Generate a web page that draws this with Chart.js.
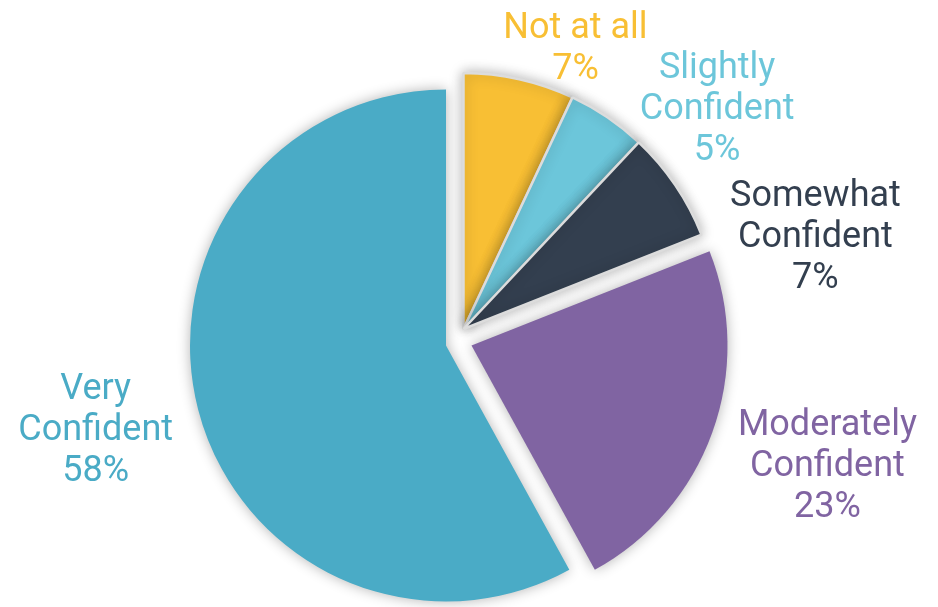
<!DOCTYPE html>
<html>
<head>
<meta charset="utf-8">
<script src="https://cdn.jsdelivr.net/npm/chart.js@4.4.1/dist/chart.umd.min.js"></script>
<style>
  html, body { margin: 0; padding: 0; background: #fff; }
  #wrap { position: relative; width: 938px; height: 607px; }
  #wrap canvas { position: absolute; left: 0; top: 0; }
</style>
</head>
<body>
<div id="wrap">
  <canvas id="pieSmall" width="938" height="607"></canvas>
  <canvas id="pieModerate" width="938" height="607"></canvas>
  <canvas id="pieVery" width="938" height="607"></canvas>
</div>
<script>
// Survey answers, clockwise from 12 o'clock
const categories = ['Not at all', 'Slightly Confident', 'Somewhat Confident', 'Moderately Confident', 'Very Confident'];
const percents = [7, 5, 7, 23, 58];
const labelLines = [['Not at all'], ['Slightly', 'Confident'], ['Somewhat', 'Confident'], ['Moderately', 'Confident'], ['Very', 'Confident']];

const colors = ['#F8BF34', '#6CC6DA', '#333F4F', '#8064A2', '#4AABC6'];
const labelNudge = [[36, 30], [55, 60], [53, 99], [12, 7], [-8, 2]];
const lineHeight = 41;

// the pie is exploded in three pieces, each drawn on its own canvas
const W = 938, H = 607;
const baseCenter = [460, 336];
const pieRadius = 256;
const pieces = [
    { canvas: 'pieSmall', slices: [0, 1, 2], shift: [3.5, -7] },
    { canvas: 'pieModerate', slices: [3], shift: [11.5, 9.5] },
    { canvas: 'pieVery', slices: [4], shift: [-14, 9.5] }
];

const shadowAndLabels = {
    id: 'shadowAndLabels',
    beforeDatasetsDraw(chart) {
        const ctx = chart.ctx;
        ctx.save();
        ctx.shadowColor = 'rgba(0, 0, 0, 0.3)';
        ctx.shadowBlur = 13;
    },
    afterDatasetsDraw(chart, args, opts) {
        const ctx = chart.ctx;
        ctx.restore();

        const arcs = chart.getDatasetMeta(0).data;
        ctx.save();
        ctx.font = '36px Roboto';
        ctx.textAlign = 'center';
        ctx.textBaseline = 'middle';
        arcs.forEach((arc, i) => {
            if (!opts.slices.includes(i)) return;
            const lines = labelLines[i].concat(percents[i] + '%');
            const mid = (arc.startAngle + arc.endAngle) / 2;
            const dx = Math.cos(mid), dy = Math.sin(mid);
            const halfW = Math.max(...lines.map(l => ctx.measureText(l).width)) / 2;
            const halfH = lines.length * lineHeight / 2;
            const reach = arc.outerRadius + 20;
            const cx = arc.x + dx * (reach + halfW) + labelNudge[i][0];
            const cy = arc.y + dy * (reach + halfH) + labelNudge[i][1];
            ctx.fillStyle = colors[i];
            lines.forEach((txt, k) => {
                ctx.fillText(txt, cx, cy + (k - (lines.length - 1) / 2) * lineHeight);
            });
        });
        ctx.restore();
    }
};

pieces.forEach(piece => {
    const cx = baseCenter[0] + piece.shift[0];
    const cy = baseCenter[1] + piece.shift[1];
    const padX = 2 * cx - W;
    const padY = 2 * cy - H;
    const shown = percents.map((v, i) => piece.slices.includes(i));
    const edge = piece.slices.length > 1 ? 2.5 : 0;

    new Chart(document.getElementById(piece.canvas).getContext('2d'), {
        type: 'pie',
        data: {
            labels: categories,
            datasets: [{
                data: percents,
                backgroundColor: colors.map((c, i) => shown[i] ? c : 'rgba(0,0,0,0)'),
                borderColor: '#dcdcdc',
                borderWidth: shown.map(s => s ? edge : 0),
                hoverOffset: 0
            }]
        },
        options: {
            responsive: false,
            animation: false,
            radius: pieRadius,
            layout: {
                padding: {
                    left: Math.max(padX, 0), right: Math.max(-padX, 0),
                    top: Math.max(padY, 0), bottom: Math.max(-padY, 0)
                }
            },
            plugins: {
                legend: { display: false },
                tooltip: { enabled: false },
                shadowAndLabels: { slices: piece.slices }
            }
        },
        plugins: [shadowAndLabels]
    });
});
</script>
</body>
</html>
